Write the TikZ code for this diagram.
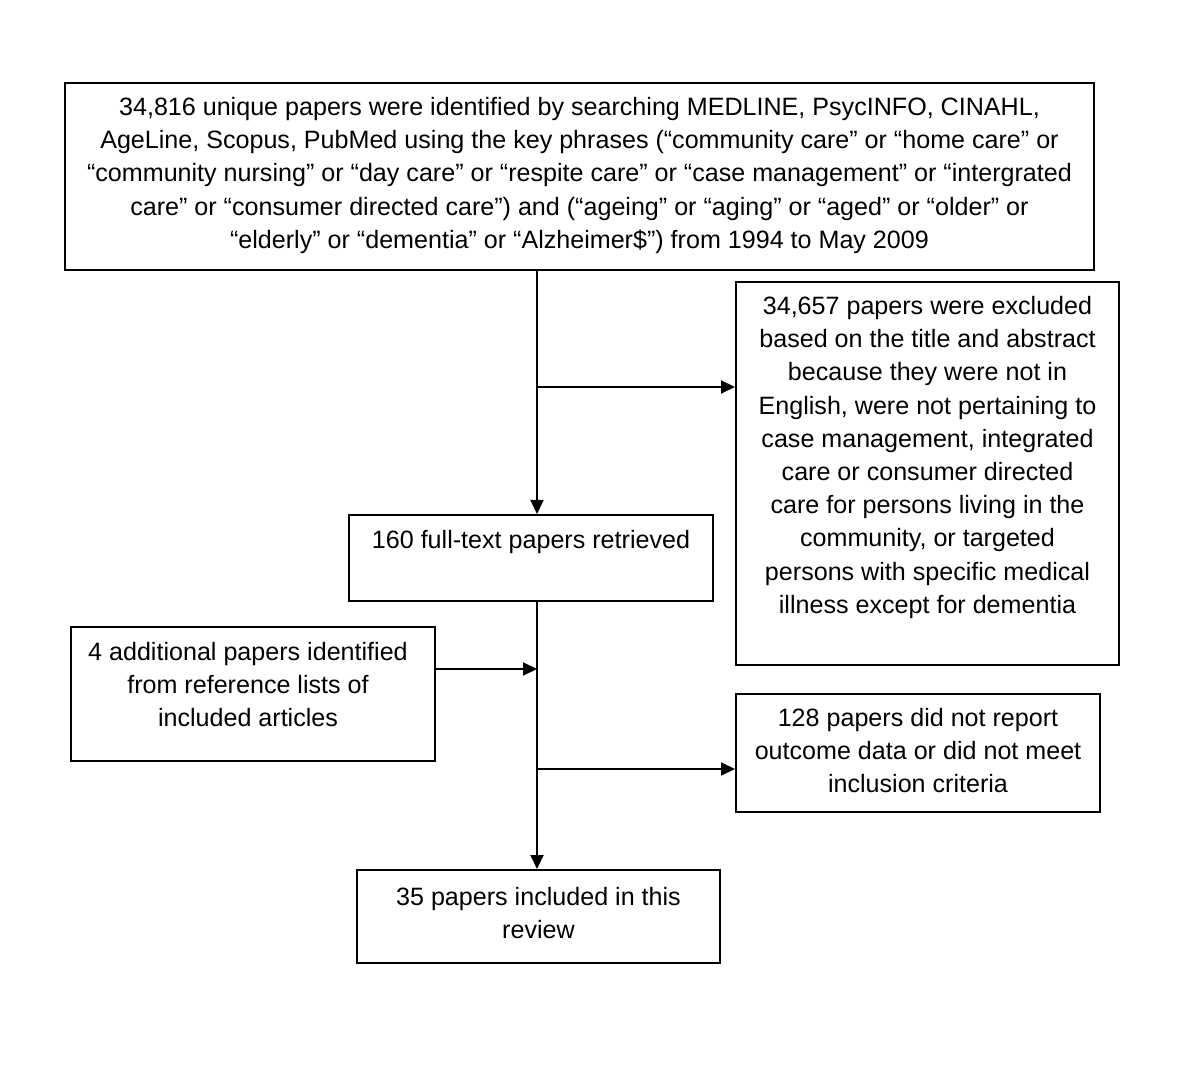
\documentclass[tikz,border=0pt]{standalone}
\usepackage{fontspec}
\setmainfont{Liberation Sans}
\usetikzlibrary{arrows.meta}
\begin{document}
\begin{tikzpicture}[x=0.5pt,y=-0.5pt,
  box/.style={draw, line width=1pt, inner sep=0pt},
  txt/.style={inner sep=0pt, anchor=north, align=center, font=\fontsize{12.55}{16.6}\selectfont},
  arr/.style={line width=1pt, -{Triangle[length=7pt,width=6.5pt]}}]
\useasboundingbox[fill=white] (0,0) rectangle (1200,1080);
% boxes
\node[box, minimum width=1029*0.5pt, minimum height=187*0.5pt] (top) at (579.5,176.5) {};
\node[box, minimum width=383*0.5pt, minimum height=383*0.5pt] (excl) at (927.5,473.5) {};
\node[box, minimum width=364*0.5pt, minimum height=86*0.5pt] (full) at (531,558) {};
\node[box, minimum width=364*0.5pt, minimum height=134*0.5pt] (add) at (253,694) {};
\node[box, minimum width=364*0.5pt, minimum height=118*0.5pt] (outc) at (918,753) {};
\node[box, minimum width=363*0.5pt, minimum height=93*0.5pt] (incl) at (538.5,916.5) {};
% texts
\node[txt] (ttop) at (579.5,97) {34,816 unique papers were identified by searching MEDLINE, PsycINFO, CINAHL,\\
AgeLine, Scopus, PubMed using the key phrases (“community care” or “home care” or\\
“community nursing” or “day care” or “respite care” or “case management” or “intergrated\\
care” or “consumer directed care”) and (“ageing” or “aging” or “aged” or “older” or\\
“elderly” or “dementia” or “Alzheimer\$”) from 1994 to May 2009};
\node[txt] (texcl) at (927.5,296) {34,657 papers were excluded\\
based on the title and abstract\\
because they were not in\\
English, were not pertaining to\\
case management, integrated\\
care or consumer directed\\
care for persons living in the\\
community, or targeted\\
persons with specific medical\\
illness except for dementia};
\node[txt] (tfull) at (531,530) {160 full-text papers retrieved};
\node[txt] (tadd) at (248,642) {4 additional papers identified\\
from reference lists of\\
included articles};
\node[txt] (toutc) at (918,708) {128 papers did not report\\
outcome data or did not meet\\
inclusion criteria};
\node[txt] (tincl) at (538.5,887) {35 papers included in this\\
review};
% connectors
\coordinate (trunk) at (537,0);
\coordinate (j1) at (537,387);
\coordinate (j2) at (537,669);
\coordinate (j3) at (537,769);
\draw[arr] (top.south -| trunk) -- (full.north -| trunk);
\draw[arr] (j1) -- (j1 -| excl.west);
\draw[arr] (full.south -| trunk) -- (incl.north -| trunk);
\draw[arr] (add.east |- j2) -- (j2);
\draw[arr] (j3) -- (j3 -| outc.west);
\end{tikzpicture}
\end{document}
